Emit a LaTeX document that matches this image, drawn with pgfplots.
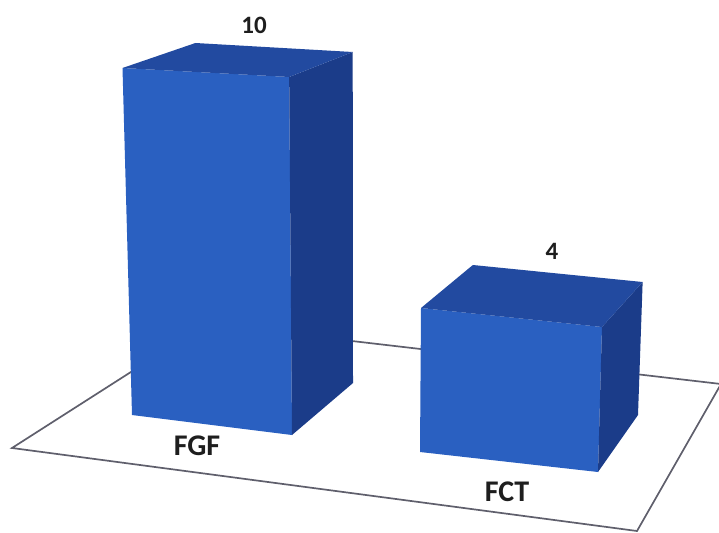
\documentclass[border=0pt]{standalone}
\usepackage{pgfplots}
\pgfplotsset{compat=1.18}
\usepackage{pgfplotstable}
\usepackage{fontspec}
\setmainfont{Carlito}

\definecolor{frontblue}{RGB}{42,96,193}
\definecolor{topblue}{RGB}{34,74,160}
\definecolor{sideblue}{RGB}{27,60,137}
\definecolor{floorline}{RGB}{95,95,108}
\definecolor{labeltext}{RGB}{30,30,30}

% bar values
\pgfplotstableread{
name value
FGF  10
FCT  4
}\bardata
\pgfplotstablegetelem{0}{value}\of\bardata \edef\vFGF{\pgfplotsretval}
\pgfplotstablegetelem{1}{value}\of\bardata \edef\vFCT{\pgfplotsretval}

% \corner{name}{value}{floor x}{floor y}{rise per unit}
% defines \<name>x,\<name>y (on the floor) and \<name>X,\<name>Y (top of the bar)
\newcommand\corner[5]{%
  \pgfmathsetmacro\tmpx{#3+(#3-360)/240*#2}%
  \pgfmathsetmacro\tmpy{#4-#5*#2}%
  \expandafter\edef\csname #1x\endcsname{#3}%
  \expandafter\edef\csname #1y\endcsname{#4}%
  \expandafter\edef\csname #1X\endcsname{\tmpx}%
  \expandafter\edef\csname #1Y\endcsname{\tmpy}%
}
% FGF box
\corner{aFL}{\vFGF}{132}{415}{34.7}
\corner{aFR}{\vFGF}{292}{435}{35.8}
\corner{aBR}{\vFGF}{353}{383}{33.1}
\corner{aBL}{\vFGF}{202}{368}{32.5}
% FCT box
\corner{bFL}{\vFCT}{420}{452}{36.0}
\corner{bFR}{\vFCT}{598}{472}{36.25}
\corner{bBR}{\vFCT}{638}{415}{33.25}
\corner{bBL}{\vFCT}{471}{397}{33.0}

\begin{document}
\begin{tikzpicture}
\begin{axis}[
  x=1pt, y=1pt, y dir=reverse,
  xmin=0, xmax=719, ymin=0, ymax=532,
  hide axis, clip=false, scale only axis,
]
% floor
\addplot[fill=white, draw=floorline, line width=1.7pt, line join=miter]
  coordinates {(12,448) (206,324) (721,384) (637,531)} -- cycle;

% FGF bar
\addplot[fill=frontblue, draw=none]
  coordinates {(\aFLx,\aFLy) (\aFRx,\aFRy) (\aFRX,\aFRY) (\aFLX,\aFLY)} -- cycle;
\addplot[fill=sideblue, draw=none]
  coordinates {(\aFRx,\aFRy) (\aBRx,\aBRy) (\aBRX,\aBRY) (\aFRX,\aFRY)} -- cycle;
\addplot[fill=topblue, draw=none]
  coordinates {(\aFLX,\aFLY) (\aFRX,\aFRY) (\aBRX,\aBRY) (\aBLX,\aBLY)} -- cycle;

% FCT bar
\addplot[fill=frontblue, draw=none]
  coordinates {(\bFLx,\bFLy) (\bFRx,\bFRy) (\bFRX,\bFRY) (\bFLX,\bFLY)} -- cycle;
\addplot[fill=sideblue, draw=none]
  coordinates {(\bFRx,\bFRy) (\bBRx,\bBRy) (\bBRX,\bBRY) (\bFRX,\bFRY)} -- cycle;
\addplot[fill=topblue, draw=none]
  coordinates {(\bFLX,\bFLY) (\bFRX,\bFRY) (\bBRX,\bBRY) (\bBLX,\bBLY)} -- cycle;

% value labels
\node[font=\fontsize{25}{28}\selectfont\bfseries, text=labeltext]
  at (axis cs:254,25) {\vFGF};
\node[font=\fontsize{25}{28}\selectfont\bfseries, text=labeltext]
  at (axis cs:552,251) {\vFCT};
% category labels
\node[font=\fontsize{30}{34}\selectfont\bfseries, text=labeltext]
  at (axis cs:197,446) {FGF};
\node[font=\fontsize{30}{34}\selectfont\bfseries, text=labeltext]
  at (axis cs:507,492) {FCT};
\end{axis}
% page = the plotting area
\pgfresetboundingbox
\path[use as bounding box] (current axis.south west) rectangle (current axis.north east);
\end{tikzpicture}
\end{document}
